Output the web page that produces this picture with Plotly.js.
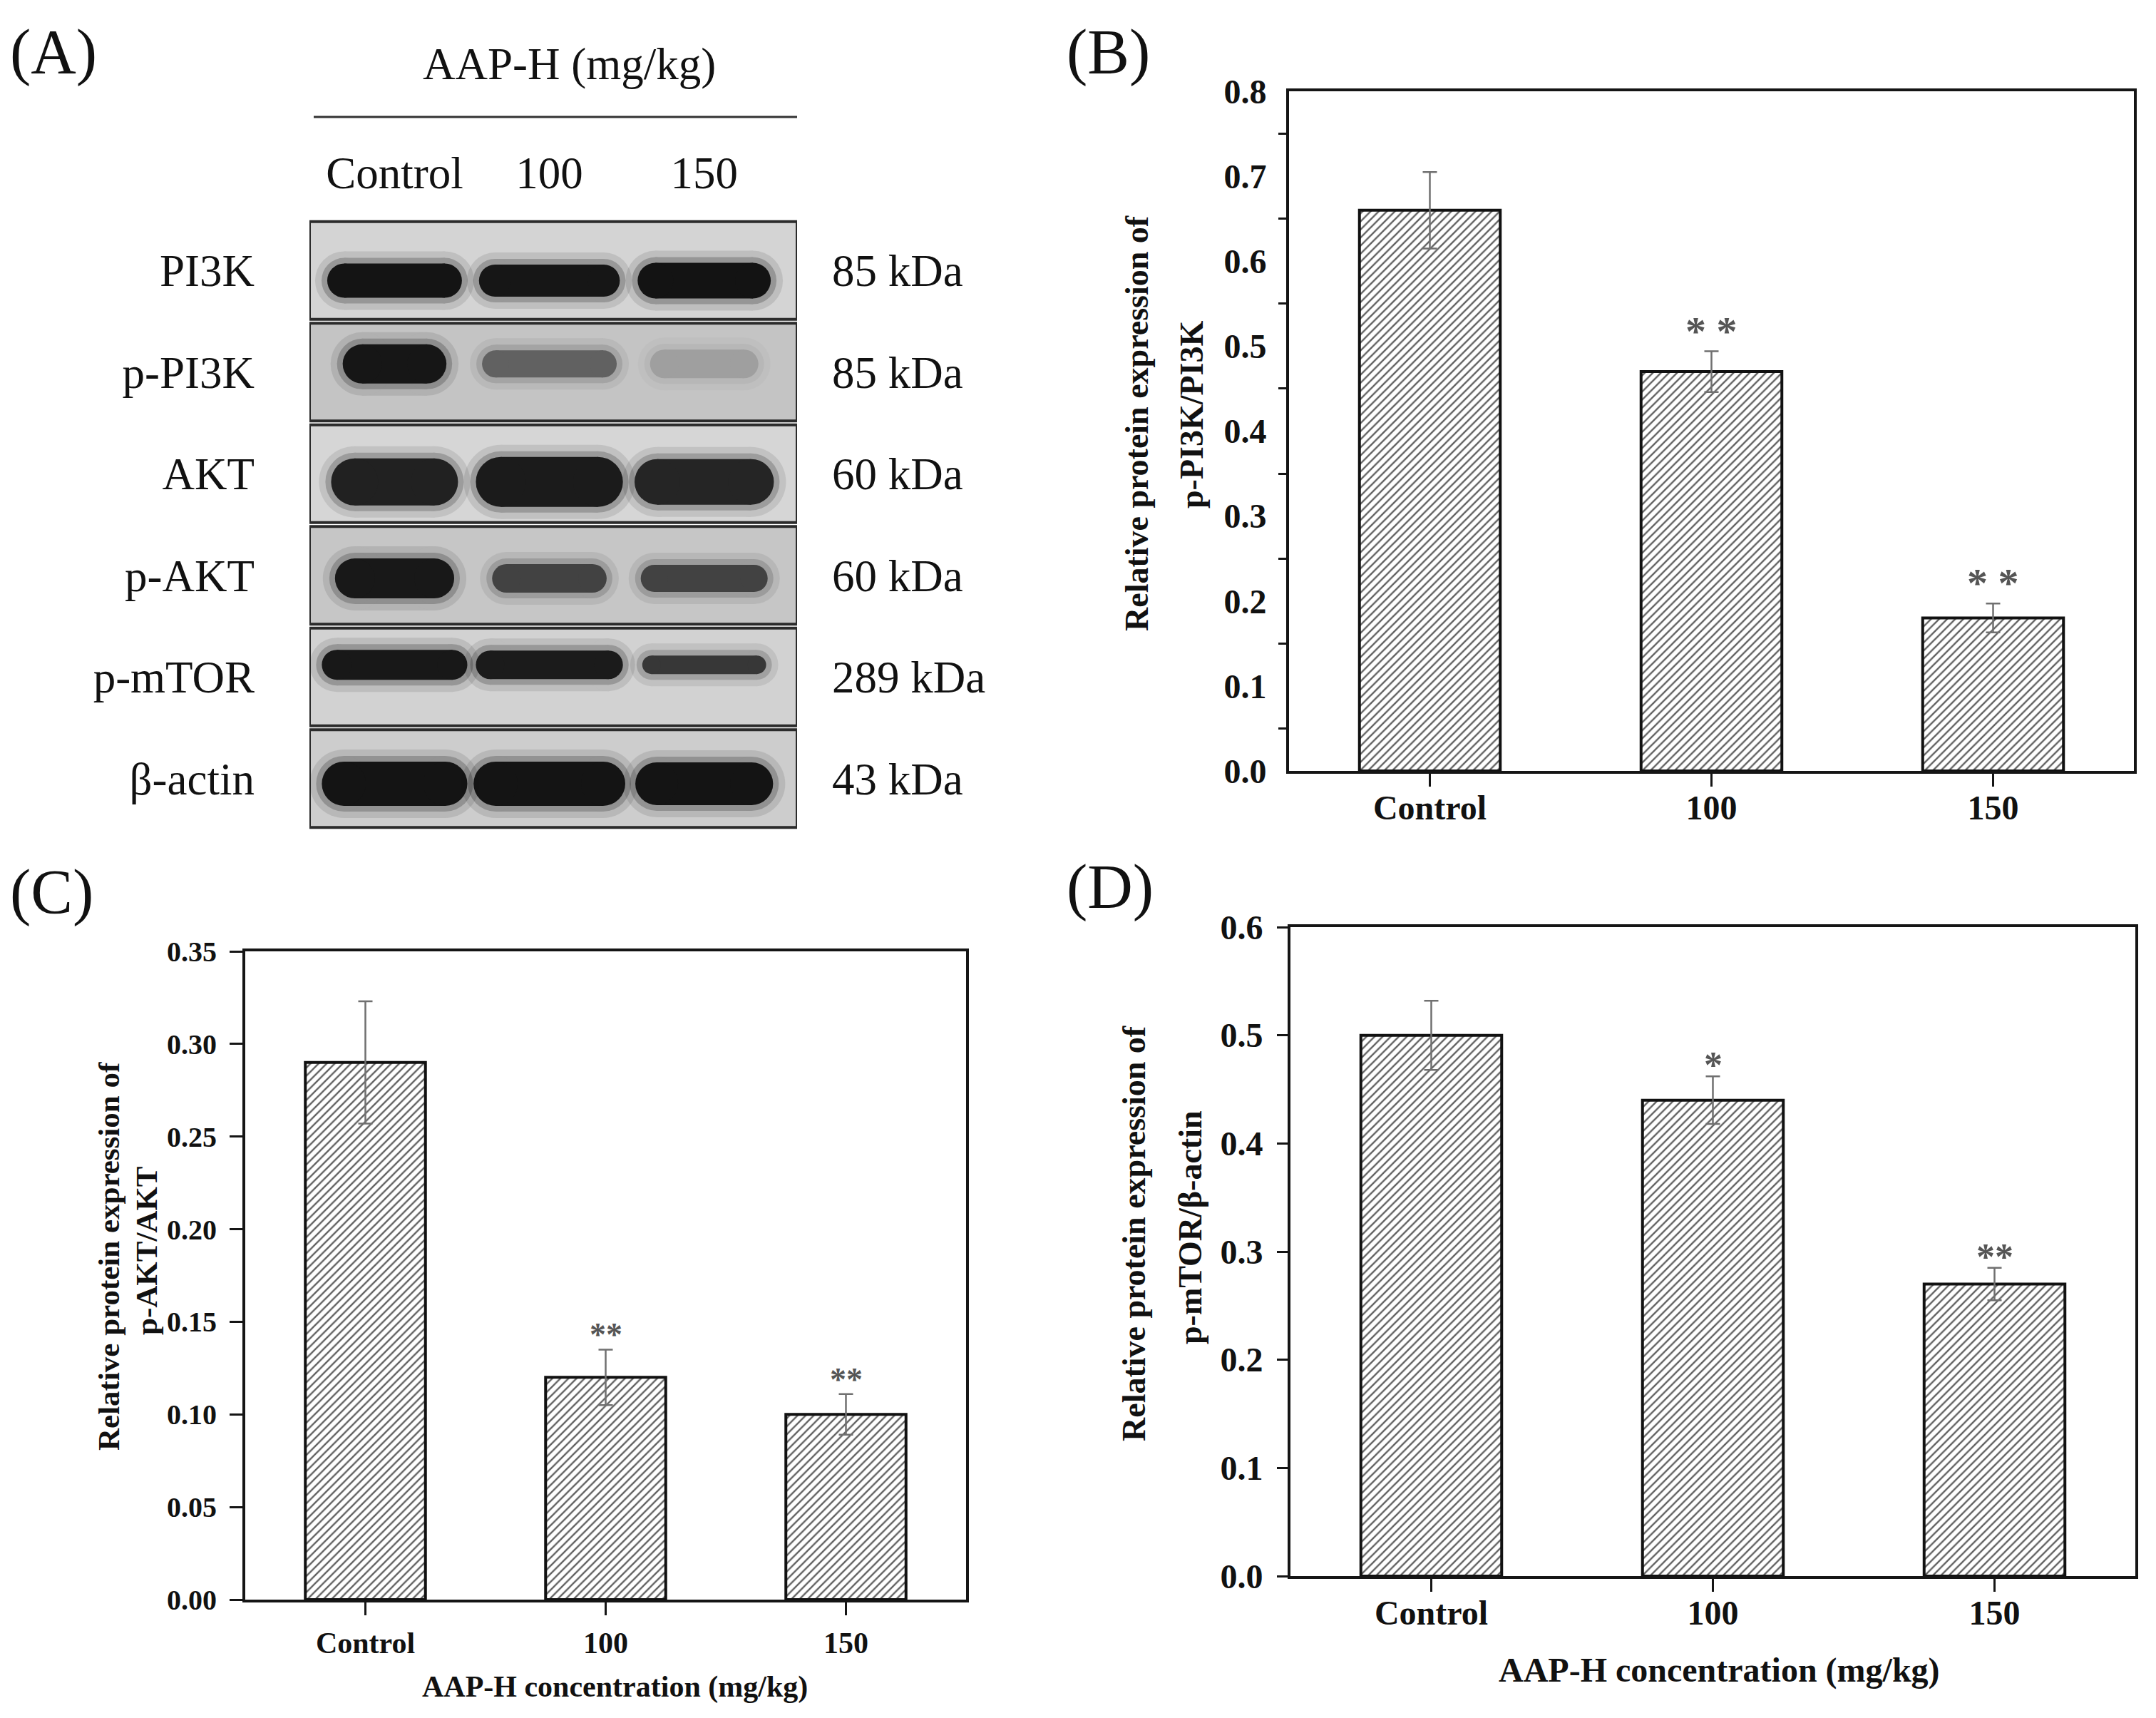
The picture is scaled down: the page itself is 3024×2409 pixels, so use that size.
<!DOCTYPE html>
<html>
<head>
<meta charset="utf-8">
<script src="https://cdn.plot.ly/plotly-3.0.1.min.js"></script>
<style>
  html, body { margin: 0; padding: 0; background: #fff; }
  #fig { width: 3024px; height: 2409px; }
</style>
</head>
<body>
<div id="fig"></div>
<script>
/* ---- dados: painel A (western blot) ---- */
var lanes    = ['Control', '100', '150'];
var proteins = ['PI3K', 'p-PI3K', 'AKT', 'p-AKT', 'p-mTOR', 'β-actin'];
var kda      = ['85 kDa', '85 kDa', '60 kDa', '60 kDa', '289 kDa', '43 kDa'];
// densidade relativa de cada banda (linha = proteína, coluna = dose)
var bandDensity = [
  [0.97, 0.96, 0.98],
  [0.96, 0.55, 0.22],
  [0.90, 0.93, 0.88],
  [0.95, 0.72, 0.72],
  [0.95, 0.93, 0.78],
  [0.97, 0.97, 0.97]
];

/* ---- dados: painéis B, C, D ---- */
var groups    = ['Control', '100', '150'];
var pi3kRatio = [0.66, 0.47, 0.18];
var pi3kErr   = [0.045, 0.024, 0.017];
var pi3kSig   = ['', '**', '**'];
var aktRatio  = [0.29, 0.12, 0.10];
var aktErr    = [0.033, 0.015, 0.011];
var aktSig    = ['', '**', '**'];
var mtorRatio = [0.50, 0.44, 0.27];
var mtorErr   = [0.032, 0.022, 0.015];
var mtorSig   = ['', '*', '**'];

/* ---- estilo do blot (aparência, não dados) ---- */
var bandWidth = [
  [0.87, 0.91, 0.86], [0.67, 0.87, 0.70], [0.82, 0.95, 0.90],
  [0.77, 0.74, 0.82], [0.94, 0.95, 0.80], [0.94, 0.98, 0.89]
];
var bandThick = [
  [48, 45, 50], [55, 38, 40], [66, 70, 64],
  [56, 40, 38], [42, 40, 26], [62, 62, 60]
];
var bandShift = [0.10, -0.08, 0.08, 0.03, -0.12, 0.05];
var blotBg    = ['#d4d4d4', '#c4c4c4', '#d6d6d6', '#c6c6c6', '#d2d2d2', '#cdcdcd'];

var W = 3024, H = 2409;
var SERIF = '"Times New Roman", "Liberation Serif", serif';
function fx(p) { return p / W; }
function fy(p) { return 1 - p / H; }

var traces = [];
var shapes = [];
var annotations = [];

/* ============================================================
   A) blot: cada banda é uma linha grossa no eixo x/y
   ============================================================ */
var laneRange = [-0.55, 2.6];
var pxPerLane = (1118 - 434) / (laneRange[1] - laneRange[0]);

proteins.forEach(function (p, r) {
  shapes.push({
    type: 'rect', xref: 'x', yref: 'y', layer: 'below',
    x0: laneRange[0], x1: laneRange[1], y0: r - 0.48, y1: r + 0.48,
    fillcolor: blotBg[r], line: { color: '#2b2b2b', width: 4 }
  });
  lanes.forEach(function (l, i) {
    var d = bandDensity[r][i];
    var t = bandThick[r][i];
    var half = bandWidth[r][i] / 2 - (t / 2) / pxPerLane;
    var g = Math.round(200 - 192 * d);
    var col = 'rgb(' + g + ',' + g + ',' + g + ')';
    var yy = r + bandShift[r];
    var xs = [i - half, i + half];
    // halos difusos + núcleo
    [[t + 34, 0.10], [t + 16, 0.22], [t, 0.95]].forEach(function (h) {
      traces.push({
        type: 'scatter', mode: 'lines+markers', xaxis: 'x', yaxis: 'y',
        x: xs, y: [yy, yy], opacity: h[1], hoverinfo: 'skip', showlegend: false,
        line: { color: col, width: h[0] },
        marker: { color: col, size: h[0] }
      });
    });
  });
});

// traço invisível para ativar o eixo y2 (rótulos de kDa)
traces.push({
  type: 'scatter', mode: 'markers', xaxis: 'x', yaxis: 'y2',
  x: [0], y: [0], marker: { opacity: 0 }, hoverinfo: 'skip', showlegend: false
});

/* ============================================================
   B, C, D) barras hachuradas com barra de erro
   ============================================================ */
function barTrace(vals, errs, xa, ya) {
  return {
    type: 'bar', x: groups, y: vals, xaxis: xa, yaxis: ya, width: 0.5,
    showlegend: false, hoverinfo: 'skip',
    marker: {
      color: '#ffffff',
      pattern: { shape: '/', fgcolor: '#606060', bgcolor: '#ffffff', size: 8, solidity: 0.3 },
      line: { color: '#111111', width: 4 }
    },
    error_y: { type: 'data', array: errs, visible: true, color: '#707070', thickness: 2.5, width: 10 }
  };
}
traces.push(barTrace(pi3kRatio, pi3kErr, 'x2', 'y3'));
traces.push(barTrace(aktRatio, aktErr, 'x3', 'y4'));
traces.push(barTrace(mtorRatio, mtorErr, 'x4', 'y5'));

function starNotes(vals, errs, sig, xa, ya, size, shift, sep) {
  sig.forEach(function (s, i) {
    if (!s) return;
    annotations.push({
      xref: xa, yref: ya, x: i, y: vals[i] + errs[i],
      text: s.split('').join(sep), showarrow: false, yanchor: 'bottom', yshift: shift,
      font: { family: SERIF, size: size, color: '#555555', weight: 'bold' }
    });
  });
}
starNotes(pi3kRatio, pi3kErr, pi3kSig, 'x2', 'y3', 58, -6, ' ');
starNotes(aktRatio, aktErr, aktSig, 'x3', 'y4', 46, -7, '');
starNotes(mtorRatio, mtorErr, mtorSig, 'x4', 'y5', 52, -15, '');

/* ---- textos em coordenadas de papel ---- */
function paperText(txt, x, y, size, opts) {
  annotations.push(Object.assign({
    xref: 'paper', yref: 'paper', x: fx(x), y: fy(y), text: txt,
    showarrow: false, xanchor: 'center', yanchor: 'middle',
    font: { family: SERIF, size: size, color: '#111111' }
  }, opts || {}));
}
paperText('(A)', 12, 73, 88, { xanchor: 'left' });
paperText('(B)', 1494, 73, 88, { xanchor: 'left' });
paperText('(C)', 12, 1250, 88, { xanchor: 'left' });
paperText('(D)', 1494, 1243, 88, { xanchor: 'left' });
paperText('AAP-H (mg/kg)', 798, 90, 63);

shapes.push({
  type: 'line', xref: 'paper', yref: 'paper',
  x0: fx(440), x1: fx(1118), y0: fy(164), y1: fy(164),
  line: { color: '#333333', width: 3 }
});

function boldFont(size) { return { family: SERIF, size: size, color: '#111111', weight: 'bold' }; }
paperText('Relative protein expression of', 1594, 594, 46, { textangle: -90, font: boldFont(46) });
paperText('p-PI3K/PI3K', 1672, 582, 46, { textangle: -90, font: boldFont(46) });
paperText('Relative protein expression of', 152, 1762, 43, { textangle: -90, font: boldFont(43) });
paperText('p-AKT/AKT', 206, 1754, 43, { textangle: -90, font: boldFont(43) });
paperText('Relative protein expression of', 1590, 1730, 46, { textangle: -90, font: boldFont(46) });
paperText('p-mTOR/β-actin', 1669, 1721, 46, { textangle: -90, font: boldFont(46) });
paperText('AAP-H concentration (mg/kg)', 862, 2365, 42, { font: boldFont(42) });
paperText('AAP-H concentration (mg/kg)', 2411, 2342, 48, { font: boldFont(48) });

/* ---- eixos ---- */
function catAxis(dom, anchor, size, standoff) {
  return {
    domain: [fx(dom[0]), fx(dom[1])], anchor: anchor, type: 'category',
    range: [-0.5, 2.5], showline: true, mirror: true, linewidth: 4, linecolor: '#151515',
    ticks: 'outside', ticklen: 18, tickwidth: 3, tickcolor: '#151515',
    ticklabelstandoff: standoff, showgrid: false, zeroline: false, fixedrange: true,
    tickfont: { family: SERIF, size: size, color: '#111111', weight: 'bold' }
  };
}
function valAxis(dom, anchor, range, dtick, fmt, size, major, standoff, minor) {
  var ax = {
    domain: [fy(dom[1]), fy(dom[0])], anchor: anchor, range: range,
    dtick: dtick, tick0: 0, tickformat: fmt,
    showline: true, mirror: true, linewidth: 4, linecolor: '#151515',
    ticks: 'outside', ticklen: major, tickwidth: 3, tickcolor: '#151515',
    ticklabelstandoff: standoff, showgrid: false, zeroline: false, fixedrange: true,
    tickfont: { family: SERIF, size: size, color: '#111111', weight: 'bold' }
  };
  if (minor) ax.minor = minor;
  return ax;
}

var layout = {
  width: W, height: H,
  margin: { l: 0, r: 0, t: 0, b: 0 },
  paper_bgcolor: '#ffffff', plot_bgcolor: 'rgba(0,0,0,0)',
  showlegend: false,
  font: { family: SERIF, color: '#111111' },

  // painel A
  xaxis: {
    domain: [fx(434), fx(1118)], anchor: 'y', range: laneRange, side: 'top',
    tickvals: [0, 1, 2], ticktext: lanes, ticks: '', ticklabelstandoff: 30,
    showline: false, showgrid: false, zeroline: false, fixedrange: true,
    tickfont: { family: SERIF, size: 63, color: '#111111' }
  },
  yaxis: {
    domain: [fy(1163), fy(308)], anchor: 'x', range: [5.5, -0.5],
    tickvals: [0, 1, 2, 3, 4, 5], ticktext: proteins, ticks: '', ticklabelstandoff: 76,
    showline: false, showgrid: false, zeroline: false, fixedrange: true,
    tickfont: { family: SERIF, size: 63, color: '#111111' }
  },
  yaxis2: {
    overlaying: 'y', anchor: 'x', side: 'right', range: [5.5, -0.5],
    tickvals: [0, 1, 2, 3, 4, 5], ticktext: kda, ticks: '', ticklabelstandoff: 48,
    showline: false, showgrid: false, zeroline: false, fixedrange: true,
    tickfont: { family: SERIF, size: 63, color: '#111111' }
  },

  // painel B
  xaxis2: catAxis([1808, 2993], 'y3', 48, -12),
  yaxis3: valAxis([128, 1081], 'x2', [0, 0.8], 0.1, '.1f', 48, 0, 18,
    { tick0: 0.05, dtick: 0.1, ticks: 'outside', ticklen: 11, tickwidth: 3, tickcolor: '#151515' }),

  // painel C
  xaxis3: catAxis([344, 1355], 'y4', 42, 3),
  yaxis4: valAxis([1334, 2243], 'x3', [0, 0.35], 0.05, '.2f', 40, 18, 10),

  // painel D
  xaxis4: catAxis([1810, 2995], 'y5', 48, -12),
  yaxis5: valAxis([1300, 2210], 'x4', [0, 0.6], 0.1, '.1f', 48, 15, 10),

  shapes: shapes,
  annotations: annotations
};

Plotly.newPlot('fig', traces, layout, { displayModeBar: false, staticPlot: true });
</script>
</body>
</html>
